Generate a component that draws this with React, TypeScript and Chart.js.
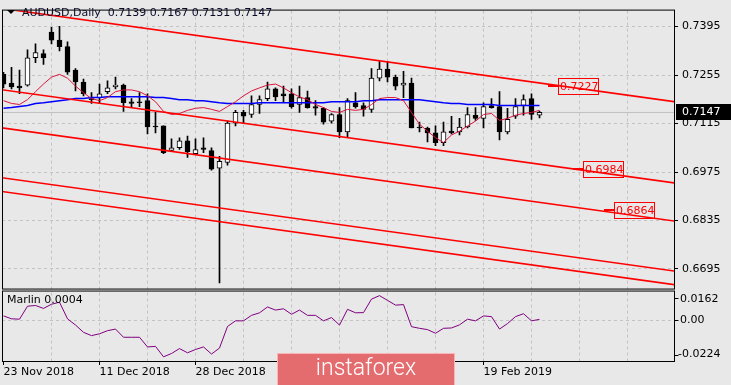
import React, { useEffect, useRef } from 'react';
import { Chart, registerables } from 'chart.js';
Chart.register(...registerables);

const dates = [
  '23 Nov 2018', '26 Nov 2018', '27 Nov 2018', '28 Nov 2018', '29 Nov 2018', '30 Nov 2018',
  '3 Dec 2018', '4 Dec 2018', '5 Dec 2018', '6 Dec 2018', '7 Dec 2018', '10 Dec 2018',
  '11 Dec 2018', '12 Dec 2018', '13 Dec 2018', '14 Dec 2018', '17 Dec 2018', '18 Dec 2018',
  '19 Dec 2018', '20 Dec 2018', '21 Dec 2018', '24 Dec 2018', '26 Dec 2018', '27 Dec 2018',
  '28 Dec 2018', '31 Dec 2018', '2 Jan 2019', '3 Jan 2019', '4 Jan 2019', '7 Jan 2019',
  '8 Jan 2019', '9 Jan 2019', '10 Jan 2019', '11 Jan 2019', '14 Jan 2019', '15 Jan 2019',
  '16 Jan 2019', '17 Jan 2019', '18 Jan 2019', '21 Jan 2019', '22 Jan 2019', '23 Jan 2019',
  '24 Jan 2019', '25 Jan 2019', '28 Jan 2019', '29 Jan 2019', '30 Jan 2019', '31 Jan 2019',
  '1 Feb 2019', '4 Feb 2019', '5 Feb 2019', '6 Feb 2019', '7 Feb 2019', '8 Feb 2019',
  '11 Feb 2019', '12 Feb 2019', '13 Feb 2019', '14 Feb 2019', '15 Feb 2019', '18 Feb 2019',
  '19 Feb 2019', '20 Feb 2019', '21 Feb 2019', '22 Feb 2019', '25 Feb 2019', '26 Feb 2019',
  '27 Feb 2019', '28 Feb 2019',
];

const opens = [0.7257, 0.7232, 0.7223, 0.7226, 0.7305, 0.7317, 0.7379, 0.7356, 0.7337, 0.7269, 0.7235, 0.7187, 0.7190, 0.7207, 0.7221, 0.7226, 0.7178, 0.7178, 0.7181, 0.7107, 0.7108, 0.7037, 0.7045, 0.7065, 0.7028, 0.7045, 0.7037, 0.6986, 0.7003, 0.7116, 0.7147, 0.7141, 0.7170, 0.7187, 0.7215, 0.7201, 0.7201, 0.7170, 0.7190, 0.7164, 0.7159, 0.7122, 0.7141, 0.7091, 0.7175, 0.7167, 0.7156, 0.7246, 0.7272, 0.7249, 0.7226, 0.7232, 0.7105, 0.7102, 0.7088, 0.7060, 0.7093, 0.7091, 0.7105, 0.7139, 0.7130, 0.7167, 0.7164, 0.7091, 0.7136, 0.7167, 0.7187, 0.7139];
const highs = [0.7263, 0.7277, 0.7269, 0.7328, 0.7345, 0.7328, 0.7393, 0.7396, 0.7351, 0.7274, 0.7243, 0.7204, 0.7229, 0.7238, 0.7249, 0.7229, 0.7187, 0.7204, 0.7201, 0.7147, 0.7108, 0.7071, 0.7074, 0.7079, 0.7071, 0.7074, 0.7045, 0.7020, 0.7122, 0.7153, 0.7153, 0.7195, 0.7195, 0.7235, 0.7218, 0.7223, 0.7215, 0.7223, 0.7209, 0.7181, 0.7161, 0.7144, 0.7161, 0.7187, 0.7204, 0.7175, 0.7274, 0.7294, 0.7294, 0.7255, 0.7266, 0.7246, 0.7119, 0.7105, 0.7108, 0.7119, 0.7136, 0.7130, 0.7161, 0.7161, 0.7175, 0.7187, 0.7207, 0.7159, 0.7187, 0.7198, 0.7201, 0.7151];
const lows = [0.7218, 0.7215, 0.7201, 0.7223, 0.7291, 0.7286, 0.7345, 0.7325, 0.7257, 0.7209, 0.7195, 0.7173, 0.7173, 0.7201, 0.7215, 0.7150, 0.7161, 0.7164, 0.7085, 0.7088, 0.7028, 0.7034, 0.7040, 0.7017, 0.7026, 0.7031, 0.6980, 0.6655, 0.6995, 0.7108, 0.7116, 0.7133, 0.7144, 0.7181, 0.7181, 0.7175, 0.7159, 0.7147, 0.7159, 0.7139, 0.7113, 0.7116, 0.7074, 0.7074, 0.7159, 0.7136, 0.7147, 0.7238, 0.7235, 0.7212, 0.7190, 0.7102, 0.7091, 0.7062, 0.7051, 0.7051, 0.7085, 0.7082, 0.7102, 0.7124, 0.7102, 0.7159, 0.7068, 0.7085, 0.7130, 0.7139, 0.7127, 0.7131];
const closes = [0.7229, 0.7221, 0.7218, 0.7305, 0.7320, 0.7305, 0.7356, 0.7337, 0.7263, 0.7235, 0.7201, 0.7184, 0.7201, 0.7218, 0.7226, 0.7175, 0.7173, 0.7175, 0.7105, 0.7105, 0.7031, 0.7045, 0.7065, 0.7034, 0.7040, 0.7040, 0.6983, 0.7006, 0.7116, 0.7147, 0.7136, 0.7170, 0.7184, 0.7215, 0.7192, 0.7195, 0.7164, 0.7190, 0.7161, 0.7159, 0.7119, 0.7141, 0.7091, 0.7181, 0.7164, 0.7156, 0.7246, 0.7272, 0.7249, 0.7223, 0.7232, 0.7102, 0.7102, 0.7088, 0.7060, 0.7091, 0.7088, 0.7105, 0.7141, 0.7130, 0.7164, 0.7161, 0.7091, 0.7127, 0.7164, 0.7184, 0.7141, 0.7147];

const fastMa = [0.7181, 0.7173, 0.7170, 0.7184, 0.7207, 0.7229, 0.7249, 0.7257, 0.7246, 0.7223, 0.7204, 0.7187, 0.7181, 0.7190, 0.7207, 0.7212, 0.7212, 0.7207, 0.7195, 0.7178, 0.7150, 0.7141, 0.7144, 0.7153, 0.7159, 0.7161, 0.7156, 0.7150, 0.7164, 0.7178, 0.7195, 0.7209, 0.7218, 0.7226, 0.7229, 0.7218, 0.7204, 0.7192, 0.7184, 0.7170, 0.7161, 0.7150, 0.7147, 0.7156, 0.7153, 0.7156, 0.7170, 0.7187, 0.7190, 0.7190, 0.7181, 0.7147, 0.7113, 0.7093, 0.7074, 0.7060, 0.7082, 0.7093, 0.7108, 0.7122, 0.7141, 0.7144, 0.7124, 0.7130, 0.7139, 0.7144, 0.7147, 0.7153];
const slowMa = [0.7159, 0.7161, 0.7164, 0.7167, 0.7173, 0.7175, 0.7178, 0.7181, 0.7184, 0.7187, 0.7187, 0.7190, 0.7190, 0.7192, 0.7192, 0.7192, 0.7192, 0.7192, 0.7192, 0.7190, 0.7190, 0.7187, 0.7184, 0.7184, 0.7181, 0.7181, 0.7178, 0.7175, 0.7173, 0.7173, 0.7173, 0.7173, 0.7175, 0.7175, 0.7175, 0.7175, 0.7175, 0.7175, 0.7175, 0.7175, 0.7175, 0.7178, 0.7178, 0.7178, 0.7178, 0.7181, 0.7181, 0.7184, 0.7184, 0.7184, 0.7184, 0.7184, 0.7184, 0.7181, 0.7178, 0.7175, 0.7173, 0.7173, 0.7170, 0.7170, 0.7170, 0.7170, 0.7167, 0.7167, 0.7167, 0.7167, 0.7167, 0.7167];
const marlin = [0.0023, 0.0007, 0.0005, 0.0076, 0.0080, 0.0064, 0.0087, 0.0098, 0.0007, -0.0027, -0.0067, -0.0085, -0.0075, -0.0058, -0.0049, -0.0094, -0.0094, -0.0094, -0.0147, -0.0144, -0.0201, -0.0183, -0.0156, -0.0179, -0.0161, -0.0147, -0.0186, -0.0153, -0.0035, -0.0004, -0.0004, 0.0026, 0.0040, 0.0072, 0.0055, 0.0062, 0.0032, 0.0055, 0.0026, 0.0026, -0.0004, 0.0014, -0.0027, 0.0059, 0.0040, 0.0041, 0.0115, 0.0134, 0.0108, 0.0082, 0.0085, -0.0036, -0.0045, -0.0052, -0.0072, -0.0045, -0.0043, -0.0026, 0.0005, -0.0004, 0.0023, 0.0019, -0.0049, -0.0019, 0.0019, 0.0035, -0.0004, 0.0004];

// channel lines: [bar index start, end] and prices at those bars
const channelBars = [-1, 85];
const channelA = [0.74498, 0.71745];
const channelB = [0.72152, 0.69399];
const channelC = [0.71050, 0.68297];
const channelD = [0.69609, 0.66856];
const channelE = [0.69213, 0.66460];

const priceTicks = [0.6695, 0.6835, 0.6975, 0.7115, 0.7255, 0.7395];
const marlinTicks = [0.0162, 0, -0.0224];
const marlinTickText = ['0.0162', '0.00', '-0.0224'];
const xTickBars = [0, 6, 12, 18, 24, 30, 36, 42, 48, 54, 60, 66, 72, 78];
const xLabelBars = [0, 12, 24, 36, 48, 60];

const priceLabelText = ['0.7227', '0.6984', '0.6864'];
const priceLabelBar = [69.3, 72.4, 76.3];
const priceLabelValue = [0.7223, 0.6983, 0.6865];

const BG = '#e8e8e8';
const GRID = '#c3c3c3';
const FONT = 'DejaVu Sans';

export default function App() {
  const ref = useRef<HTMLCanvasElement | null>(null);
  useEffect(() => {
    document.body.style.margin = '0';
    const canvas = ref.current!;
    const last = closes.length - 1;
    const line = (xs: number[], ys: number[]) => xs.map((x, i) => ({ x, y: ys[i] }));
    const idx = closes.map((_, i) => i);

    const overlay = {
      id: 'overlay',
      beforeDraw(chart: any) {
        const { ctx, width, height } = chart;
        ctx.save();
        ctx.fillStyle = BG;
        ctx.fillRect(0, 0, width, height);
        ctx.restore();
      },
      afterDraw(chart: any) {
        const { ctx, chartArea, width, height } = chart;
        const ys = chart.scales.y;
        const y2 = chart.scales.y2;
        const xs = chart.scales.x;
        ctx.save();
        ctx.strokeStyle = '#000';
        ctx.lineWidth = 1;
        const L = chartArea.left + 0.5;
        const R = chartArea.right + 0.5;
        ctx.strokeRect(L, chartArea.top - 0.5, R - L, ys.bottom - 0.5 - (chartArea.top - 0.5));
        ctx.strokeRect(L, y2.top + 1.5, R - L, chartArea.bottom + 0.5 - (y2.top + 1.5));

        // header
        ctx.fillStyle = '#000';
        ctx.beginPath();
        ctx.moveTo(7, 10);
        ctx.lineTo(15, 10);
        ctx.lineTo(11, 14);
        ctx.closePath();
        ctx.fill();
        ctx.font = `11px "${FONT}"`;
        ctx.textBaseline = 'middle';
        ctx.textAlign = 'left';
        ctx.fillStyle = '#0a0a28';
        ctx.fillText(`AUDUSD,Daily  ${opens[last].toFixed(4)} 0.7167 ${lows[last].toFixed(4)} ${closes[last].toFixed(4)}`, 22, 13);

        // marlin title
        ctx.fillStyle = '#000';
        ctx.fillText(`Marlin ${marlin[last].toFixed(4)}`, 7, 300);

        // marlin axis labels
        const offs = [9, 0, -7];
        marlinTicks.forEach((v, i) => {
          const py = y2.getPixelForValue(v);
          ctx.fillStyle = '#000';
          ctx.fillText(marlinTickText[i], v < 0 ? 678 : 680, py + offs[i]);
          ctx.beginPath();
          ctx.moveTo(R, Math.round(py + offs[i] * 0.8) + 0.5);
          ctx.lineTo(R + 4, Math.round(py + offs[i] * 0.8) + 0.5);
          ctx.stroke();
        });

        // price labels on channel
        priceLabelText.forEach((t, i) => {
          const px = Math.round(xs.getPixelForValue(priceLabelBar[i]));
          const py = Math.round(ys.getPixelForValue(priceLabelValue[i]));
          ctx.strokeStyle = '#ff0000';
          ctx.lineWidth = 2;
          ctx.beginPath();
          ctx.moveTo(px - 10, py);
          ctx.lineTo(px, py);
          ctx.stroke();
          ctx.lineWidth = 1;
          ctx.strokeRect(px + 0.5, py - 7.5, 40, 16);
          ctx.fillStyle = '#ff0000';
          ctx.fillText(t, px + 2, py + 1);
        });

        // current price box
        const cp = Math.round(ys.getPixelForValue(closes[last]));
        ctx.fillStyle = '#000';
        ctx.fillRect(chartArea.right + 2, cp - 8, width - chartArea.right - 2, 16);
        ctx.fillStyle = '#fff';
        ctx.fillText(closes[last].toFixed(4), 682, cp);

        // watermark
        ctx.fillStyle = 'rgb(228,108,110)';
        ctx.fillRect(277, 353, 178, height - 353);
        ctx.strokeStyle = 'rgba(255,200,200,0.8)';
        ctx.strokeRect(277.5, 353.5, 177, height - 353);
        ctx.fillStyle = '#fff';
        ctx.font = '300 23px Roboto';
        ctx.textAlign = 'center';
        ctx.fillText('instaforex', 366, 369);
        ctx.restore();
      },
    };

    const chart = new Chart(canvas, {
      type: 'bar',
      data: {
        datasets: [
          { type: 'line', data: line(channelBars, channelA), borderColor: '#ff0000', borderWidth: 1.6, pointRadius: 0, yAxisID: 'y', order: 1 },
          { type: 'line', data: line(channelBars, channelB), borderColor: '#ff0000', borderWidth: 1.6, pointRadius: 0, yAxisID: 'y', order: 1 },
          { type: 'line', data: line(channelBars, channelC), borderColor: '#ff0000', borderWidth: 1.6, pointRadius: 0, yAxisID: 'y', order: 1 },
          { type: 'line', data: line(channelBars, channelD), borderColor: '#ff0000', borderWidth: 1.6, pointRadius: 0, yAxisID: 'y', order: 1 },
          { type: 'line', data: line(channelBars, channelE), borderColor: '#ff0000', borderWidth: 1.6, pointRadius: 0, yAxisID: 'y', order: 1 },
          { type: 'line', data: line(idx, fastMa), borderColor: '#dc143c', borderWidth: 1, pointRadius: 0, yAxisID: 'y', order: 2 },
          { type: 'line', data: line(idx, slowMa), borderColor: '#0000ff', borderWidth: 1.5, pointRadius: 0, yAxisID: 'y', order: 2 },
          {
            type: 'bar', data: idx.map((i) => ({ x: i, y: [opens[i], closes[i]] })) as any,
            backgroundColor: idx.map((i) => (closes[i] >= opens[i] ? '#ffffff' : '#000000')),
            borderColor: '#000', borderWidth: 1, borderSkipped: false, barThickness: 5,
            minBarLength: 1, grouped: false, yAxisID: 'y', order: 4,
          } as any,
          {
            type: 'bar', data: idx.map((i) => ({ x: i, y: [lows[i], highs[i]] })) as any,
            backgroundColor: '#000', borderWidth: 0, barThickness: 1, grouped: false,
            yAxisID: 'y', order: 5,
          } as any,
          { type: 'line', data: line(channelBars, [closes[last], closes[last]]), borderColor: '#c0c0c0', borderWidth: 1, pointRadius: 0, yAxisID: 'y', order: 6 },
          { type: 'line', data: line(idx, marlin), borderColor: '#800080', borderWidth: 1, pointRadius: 0, yAxisID: 'y2', order: 1 },
        ],
      },
      options: {
        responsive: false,
        devicePixelRatio: 1,
        animation: false,
        events: [],
        layout: { padding: { top: 3, left: 2, right: 0, bottom: 0 } },
        plugins: { legend: { display: false }, tooltip: { enabled: false } },
        scales: {
          x: {
            type: 'linear', position: 'bottom', min: -0.1875, max: 83.8125, offset: false,
            afterBuildTicks: (s: any) => { s.ticks = xTickBars.map((v) => ({ value: v })); },
            afterFit: (s: any) => { s.height = 24; },
            ticks: {
              autoSkip: false, maxRotation: 0, minRotation: 0, align: 'start', padding: 1,
              color: '#000', font: { family: FONT, size: 11 },
              callback: (v: any) => (xLabelBars.includes(v) ? dates[v] : ''),
            },
            grid: {
              offset: false,
              color: (c: any) => (c.tick && c.tick.value === 0 ? 'rgba(0,0,0,0)' : GRID),
              tickLength: 4,
              tickColor: (c: any) => (c.tick && xLabelBars.includes(c.tick.value) ? '#000' : 'rgba(0,0,0,0)'),
            },
            border: { display: false, dash: [3, 3] },
          },
          y: {
            type: 'linear', position: 'right', stack: 'panes', stackWeight: 285,
            min: 0.663565, max: 0.744106,
            afterBuildTicks: (s: any) => { s.ticks = priceTicks.map((v) => ({ value: v })); },
            afterFit: (s: any) => { s.width = 57; },
            ticks: {
              padding: 4, color: '#000', font: { family: FONT, size: 11 },
              callback: (v: any) => Number(v).toFixed(4),
            },
            grid: { color: GRID, tickLength: 4, tickColor: '#000' },
            border: { display: false, dash: [3, 3] },
          },
          y2: {
            type: 'linear', position: 'right', stack: 'panes', stackWeight: 73,
            min: -0.0224, max: 0.016736,
            afterBuildTicks: (s: any) => { s.ticks = [{ value: 0 }]; },
            afterFit: (s: any) => { s.width = 57; },
            ticks: { display: false },
            grid: { color: GRID, drawTicks: false },
            border: { display: false, dash: [3, 3] },
          },
        },
      } as any,
      plugins: [overlay],
    });
    return () => chart.destroy();
  }, []);
  return <canvas ref={ref} width={731} height={385} style={{ display: 'block' }} />;
}
